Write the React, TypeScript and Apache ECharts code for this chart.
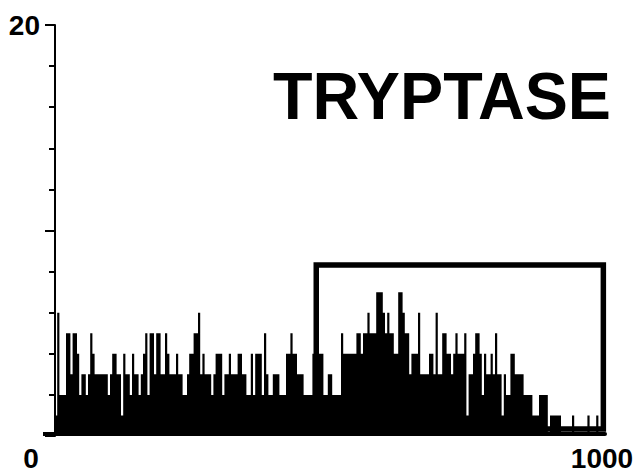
import React, { useEffect, useRef } from "react";
import * as echarts from "echarts";

// Histogram channel counts (250 channels over 0..1000)
const channelCounts: number[] = [
  1, 6, 2, 2, 2, 5, 5, 3, 5, 5,
  4, 2, 3, 3, 2, 3, 5, 4, 3, 3,
  3, 3, 3, 3, 2, 3, 4, 4, 3, 3,
  1, 4, 3, 3, 2, 4, 3, 3, 2, 3,
  4, 5, 2, 5, 5, 3, 5, 5, 3, 3,
  5, 4, 3, 3, 3, 4, 3, 3, 2, 2,
  3, 4, 4, 5, 5, 6, 3, 4, 3, 3,
  3, 2, 3, 4, 4, 4, 2, 3, 3, 4,
  3, 3, 3, 4, 4, 3, 3, 2, 2, 4,
  2, 4, 4, 4, 2, 5, 3, 2, 2, 3,
  3, 3, 2, 2, 2, 4, 4, 5, 4, 4,
  3, 3, 3, 2, 2, 2, 2, 4, 4, 4,
  4, 4, 2, 2, 3, 3, 2, 2, 2, 2,
  5, 4, 4, 4, 4, 4, 4, 5, 5, 4,
  5, 5, 6, 5, 5, 5, 7, 7, 7, 6,
  5, 6, 5, 5, 4, 4, 7, 7, 6, 5,
  5, 3, 4, 4, 4, 6, 3, 3, 3, 3,
  4, 4, 3, 6, 3, 3, 5, 5, 4, 4,
  3, 4, 5, 4, 4, 4, 5, 1, 3, 3,
  4, 5, 5, 4, 2, 4, 3, 3, 4, 3,
  5, 3, 3, 1, 3, 2, 2, 4, 4, 3,
  3, 3, 3, 2, 2, 2, 2, 1, 1, 1,
  2, 2, 2, 2, 0, 1, 1, 1, 1, 1,
  0, 0, 0, 0, 0, 1, 0, 0, 0, 0,
  0, 0, 1, 0, 0, 0, 1, 0, 0, 0,
];
const channelWidth = 4;
const xMin = 0;
const xMax = 1000;
const yMin = 0;
const yMax = 20;
const xTickValues = [0, 1000];
const yLabelValue = 20;
// Gate (marker region) drawn on the histogram
const gateX = [475, 475, 997, 997, 475];
const gateY = [0.34, 8.32, 8.32, 0.34, 0.34];
const titleText = "TRYPTASE";

const FONT = '"Liberation Sans", Arial, Helvetica, sans-serif';

export default function App() {
  const ref = useRef<HTMLDivElement>(null);

  useEffect(() => {
    if (!ref.current) return;
    const chart = echarts.init(ref.current, null, { renderer: "svg" });

    const stepData: number[][] = [[xMin, channelCounts[0]]];
    channelCounts.forEach((c, i) => {
      stepData.push([i * channelWidth + channelWidth / 2, c]);
    });
    stepData.push([xMax, channelCounts[channelCounts.length - 1]]);

    const gateData = gateX.map((x, i) => [x, gateY[i]]);

    const labelFont = {
      fontFamily: FONT,
      fontWeight: "bold" as const,
      fontSize: 28,
      color: "#000",
    };

    chart.setOption({
      animation: false,
      backgroundColor: "#fff",
      grid: {
        left: 55,
        right: 32,
        top: 25,
        bottom: 38,
        containLabel: false,
        outerBoundsMode: "none",
      },
      xAxis: {
        type: "value",
        min: xMin,
        max: xMax,
        interval: 1000,
        offset: -2,
        axisLine: { show: true, onZero: false, lineStyle: { color: "#000", width: 4 } },
        axisTick: { show: false },
        splitLine: { show: false },
        axisLabel: {
          ...labelFont,
          margin: 10,
          formatter: (v: number) =>
            v === xTickValues[0] ? "{l|" + v + "}" : v === xTickValues[1] ? "{r|" + v + "}" : "",
          rich: {
            l: { ...labelFont, padding: [0, 48, 0, 0] },
            r: { ...labelFont, padding: [0, 6, 0, 0] },
          },
        },
      },
      yAxis: [
        {
          type: "value",
          min: yMin,
          max: yMax,
          interval: 2,
          position: "left",
          axisLine: { show: true, onZero: false, lineStyle: { color: "#000", width: 2 } },
          axisTick: { show: true, length: 6, lineStyle: { color: "#000", width: 2 } },
          splitLine: { show: false },
          axisLabel: {
            ...labelFont,
            margin: 15,
            formatter: (v: number) => (v === yLabelValue ? String(v) : ""),
          },
        },
        {
          type: "value",
          min: yMin,
          max: yMax,
          interval: 10,
          position: "left",
          axisLine: { show: false, onZero: false },
          axisTick: { show: true, length: 10, lineStyle: { color: "#000", width: 2 } },
          splitLine: { show: false },
          axisLabel: { show: false },
        },
      ],
      series: [
        {
          type: "line",
          step: "middle",
          data: stepData,
          symbol: "none",
          lineStyle: { width: 0, color: "#000" },
          areaStyle: { color: "#000", opacity: 1 },
          z: 2,
        },
        {
          type: "line",
          data: gateData,
          symbol: "none",
          lineStyle: { width: 5.5, color: "#000", join: "miter", cap: "square" },
          z: 3,
        },
      ],
      graphic: [
        {
          type: "line",
          shape: { x1: 43, y1: 434, x2: 56, y2: 434 },
          style: { stroke: "#000", lineWidth: 4 },
        },
        {
          type: "text",
          x: 273,
          y: 62,
          scaleX: 0.966,
          style: {
            text: titleText,
            fontFamily: FONT,
            fontWeight: "bold",
            fontSize: 67,
            fill: "#000",
            align: "left",
            verticalAlign: "top",
          },
        },
      ],
    });

    return () => chart.dispose();
  }, []);

  return (
    <div
      ref={ref}
      style={{ position: "fixed", left: 0, top: 0, width: 637, height: 474, background: "#fff" }}
    />
  );
}
